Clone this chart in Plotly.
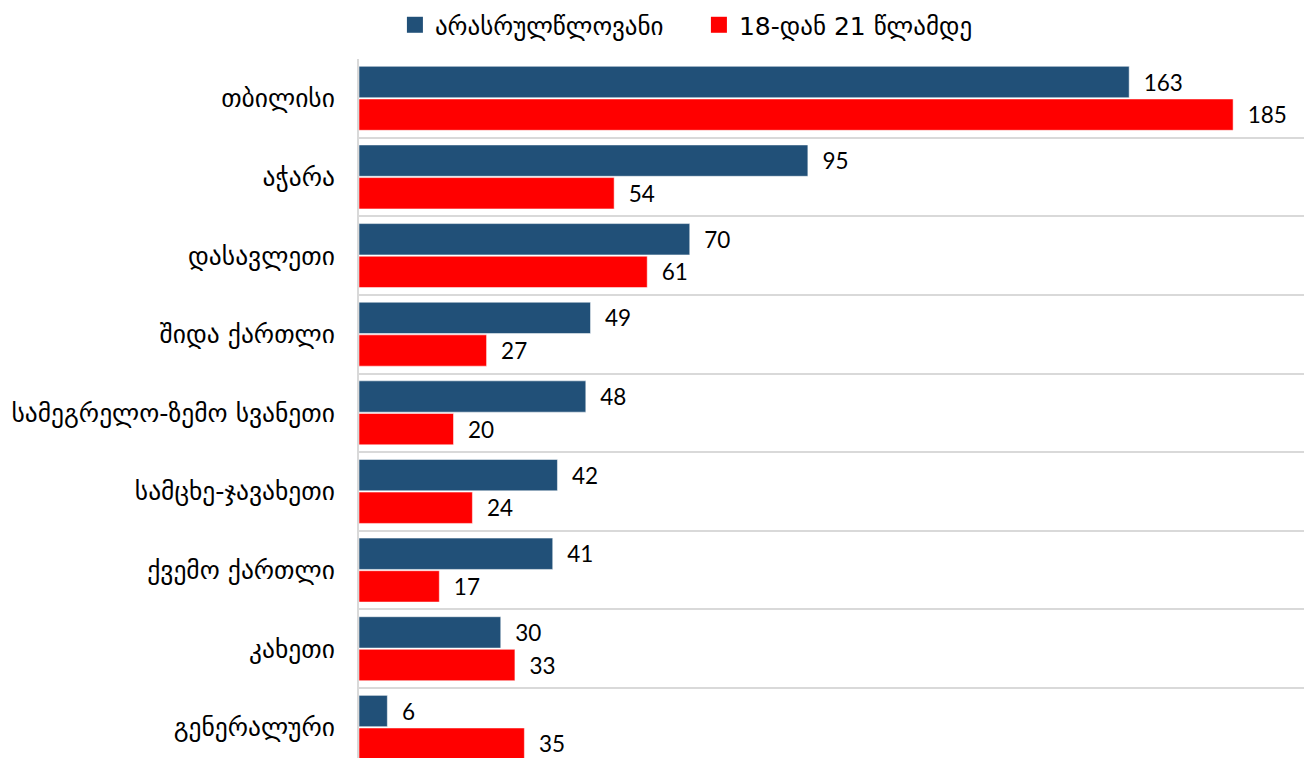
import plotly.graph_objects as go

categories = ["თბილისი", "აჭარა", "დასავლეთი", "შიდა ქართლი", "სამეგრელო-ზემო სვანეთი",
              "სამცხე-ჯავახეთი", "ქვემო ქართლი", "კახეთი", "გენერალური"]
series_names = ["არასრულწლოვანი", "18-დან 21 წლამდე"]
minors = [163, 95, 70, 49, 48, 42, 41, 30, 6]
young_adults = [185, 54, 61, 27, 20, 24, 17, 33, 35]
colors = ["#215078", "#FF0000"]

fig = go.Figure()
for name, vals, col in zip(series_names, [minors, young_adults], colors):
    fig.add_trace(go.Bar(
        y=categories, x=vals, orientation="h", name=name, showlegend=False,
        marker=dict(color=col, line=dict(color="rgba(255,255,255,0.5)", width=1)),
        text=vals, texttemplate="\u00a0\u00a0%{x}", textposition="outside",
        textfont=dict(family="Lato, Open Sans, sans-serif", size=22.5, color="#000000"),
        cliponaxis=False,
    ))
# legend-only entries with larger square swatches
for name, col in zip(series_names, colors):
    fig.add_trace(go.Scatter(
        x=[None], y=[None], mode="markers", name=name,
        marker=dict(symbol="square", size=17, color=col),
    ))

fig.update_layout(
    width=1308, height=758,
    margin=dict(l=359, r=4, t=59, b=0, autoexpand=False),
    paper_bgcolor="white", plot_bgcolor="white",
    barmode="group", bargap=0.17, bargroupgap=0.04,
    font=dict(family="DejaVu Sans, sans-serif", color="#000000"),
    legend=dict(orientation="h", x=0.038, xanchor="left", y=1.0486, yanchor="middle",
                font=dict(size=25, family="DejaVu Sans, sans-serif"),
                itemsizing="trace", traceorder="normal",
                entrywidth=259, entrywidthmode="pixels"),
    showlegend=True,
)
fig.update_xaxes(range=[0, 200], showgrid=False, showticklabels=False, zeroline=False,
                 showline=False, ticks="")
fig.update_yaxes(type="category", range=[8.39, -0.5], showgrid=True, gridcolor="#D9D9D9",
                 gridwidth=2, tickson="boundaries", ticks="", showline=True,
                 linecolor="#D9D9D9", linewidth=2,
                 tickfont=dict(size=25.5, family="DejaVu Sans, sans-serif", color="#000000"),
                 ticklabelstandoff=17)

fig.write_html("out.html", config={"displayModeBar": False},
               post_script="document.body.style.margin='0';document.body.style.overflow='hidden';")
